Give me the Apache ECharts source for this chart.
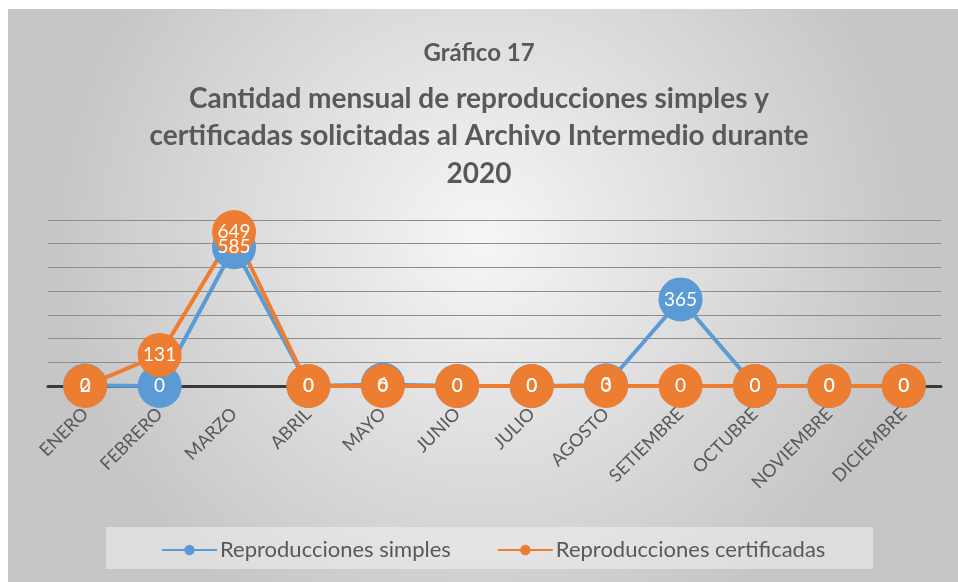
<!DOCTYPE html>
<html><head><meta charset="utf-8">
<script src="https://cdn.jsdelivr.net/npm/echarts@6/dist/echarts.min.js"></script>
<style>html,body{margin:0;padding:0;background:#fff}#c{width:958px;height:582px}</style>
</head><body><div id="c"></div>
<script>
const months = ['ENERO','FEBRERO','MARZO','ABRIL','MAYO','JUNIO','JULIO','AGOSTO','SETIEMBRE','OCTUBRE','NOVIEMBRE','DICIEMBRE'];
const simples = [2, 0, 585, 0, 6, 0, 0, 3, 365, 0, 0, 0];
const certificadas = [0, 131, 649, 0, 0, 0, 0, 0, 0, 0, 0, 0];
const seriesNames = ['Reproducciones simples', 'Reproducciones certificadas'];
const titleMain = 'Gráfico 17';
const titleLines = ['Cantidad mensual de reproducciones simples y', 'certificadas solicitadas al Archivo Intermedio durante', '2020'];

const chart = echarts.init(document.getElementById('c'));
const font = 'Lato, "Open Sans", sans-serif';
const lbl = {show: true, position: 'inside', color: '#fff', fontSize: 19, fontFamily: font};
chart.setOption({
  backgroundColor: '#fff',
  graphic: [{
    type: 'rect', z: -10, silent: true,
    shape: {x: 8, y: 9, width: 950, height: 573},
    style: {fill: {type: 'radial', x: 0.5, y: 0.4, r: 0.75,
      colorStops: [{offset: 0, color: '#f6f6f6'}, {offset: 1, color: '#c6c6c6'}]}}
  }, {
    type: 'rect', z: -5, silent: true,
    shape: {x: 106, y: 527, width: 767, height: 42},
    style: {fill: 'rgba(240,240,240,0.55)'}
  }],
  title: [{
    text: titleMain, left: 'center', top: 33,
    textStyle: {fontFamily: font, fontSize: 24, fontWeight: 'bold', color: '#595959', lineHeight: 30}
  }, {
    text: titleLines.join('\n'), left: 'center', top: 75,
    textStyle: {fontFamily: font, fontSize: 28, fontWeight: 'bold', color: '#595959', lineHeight: 37.5}
  }],
  legend: {
    data: seriesNames, top: 534, left: 156, itemWidth: 55, itemHeight: 13, itemGap: 46,
    textStyle: {fontFamily: font, fontSize: 22, color: '#595959', padding: [0, 0, 0, -2]}
  },
  grid: {left: 48, right: 17, top: 220, bottom: 196},
  xAxis: {
    type: 'category', data: months, boundaryGap: true,
    axisLine: {lineStyle: {color: '#3a3a3a', width: 3}},
    axisTick: {show: false},
    axisLabel: {rotate: 45, interval: 0, color: '#595959', fontFamily: font, fontSize: 18, margin: 25}
  },
  yAxis: {
    type: 'value', min: 0, max: 700, interval: 100,
    axisLabel: {show: false}, axisLine: {show: false}, axisTick: {show: false},
    splitLine: {lineStyle: {color: '#8c8c8c', width: 1}}
  },
  series: [{
    name: seriesNames[0], type: 'line', data: simples,
    color: '#5b9bd5', lineStyle: {width: 4}, symbol: 'circle', symbolSize: 44,
    itemStyle: {color: '#5b9bd5'}, label: lbl
  }, {
    name: seriesNames[1], type: 'line', data: certificadas,
    color: '#ed7d31', lineStyle: {width: 4}, symbol: 'circle', symbolSize: 44,
    itemStyle: {color: '#ed7d31'}, label: lbl
  }]
});
</script></body></html>
